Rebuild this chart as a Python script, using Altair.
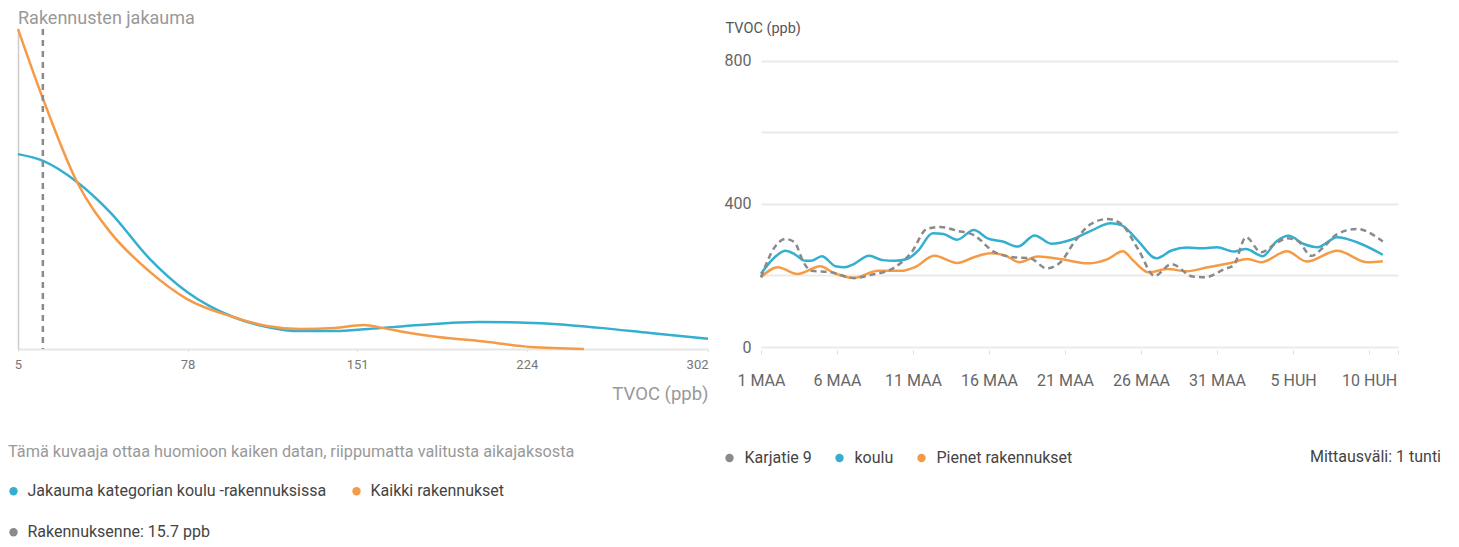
import json
import altair as alt
import pandas as pd

# ---------------- Left panel: distribution ----------------
tvoc_school = [5, 15.8, 30.4, 44.6, 61.8, 77.8, 97.6, 112.2, 126.4, 141.5, 155.7, 178, 203.4, 221, 235.3, 255.5, 277, 302]
dens_school = [0.609, 0.588, 0.522, 0.428, 0.281, 0.178, 0.10, 0.069, 0.056, 0.056, 0.0625, 0.075, 0.084, 0.083, 0.078, 0.066, 0.05, 0.032]
tvoc_all = [5, 15.8, 30.4, 44.6, 61.8, 77.8, 97.6, 112.2, 126.4, 141.5, 154, 161.7, 173.7, 185.8, 207.3, 225.4, 248.6]
dens_all = [1.0, 0.781, 0.522, 0.366, 0.241, 0.156, 0.10, 0.072, 0.0625, 0.066, 0.075, 0.066, 0.05, 0.0375, 0.022, 0.006, 0.0]
own_building = [15.7]
left_ticks = [5, 78, 151, 224, 302]
left_names = ["Jakauma kategorian koulu -rakennuksissa", "Kaikki rakennukset",
              f"Rakennuksenne: {own_building[0]} ppb"]

# ---------------- Right panel: time series ----------------
days_gray = [0, 0.9, 1.6, 2.2, 2.8, 3.3, 4.6, 6.1, 7.2, 8.8, 9.9, 10.9, 11.8, 12.9, 14.0, 15.3, 16.6, 17.7,
             18.8, 19.7, 20.6, 21.7, 22.8, 23.7, 24.8, 25.9, 27.0, 28.4, 29.2, 30.5, 31.1, 31.9, 32.9, 33.8,
             34.6, 35.3, 36.2, 37.0, 37.9, 39.2, 40.9]
vals_gray = [195, 279, 302, 293, 237, 213, 209, 193, 201, 223, 265, 330, 336, 325, 313, 267, 251, 248,
             220, 237, 293, 344, 358, 344, 274, 199, 232, 197, 195, 218, 229, 307, 265, 288,
             304, 297, 255, 279, 316, 330, 295]
days_blue = [0, 0.9, 1.6, 2.2, 2.9, 3.3, 4.0, 4.9, 5.5, 6.1, 7.1, 8.0, 8.8, 9.6, 10.3, 11.3, 12.0, 12.9,
             14.0, 14.9, 15.9, 16.9, 18.0, 19.1, 20.4, 21.7, 23.0, 23.7, 24.8, 26.0, 27.0, 28.0, 29.0,
             30.0, 31.1, 31.9, 33.0, 33.9, 34.7, 35.7, 36.6, 37.9, 39.2, 40.9]
vals_blue = [205, 251, 269, 260, 241, 241, 254, 226, 223, 232, 255, 243, 241, 246, 268, 318, 316, 300,
             327, 304, 295, 281, 312, 289, 300, 325, 346, 341, 297, 248, 270, 278, 276,
             279, 267, 274, 254, 295, 311, 288, 279, 307, 293, 258]
days_orange = [0, 1.1, 2.4, 3.9, 4.8, 6.1, 7.7, 9.2, 10.1, 11.4, 12.9, 14.0, 15.1, 16.0, 17.0, 18.2, 19.7,
               21.5, 22.8, 23.8, 24.5, 25.5, 26.7, 28.0, 29.4, 30.9, 32.0, 32.9, 34.6, 35.9, 37.9, 39.9, 40.9]
vals_orange = [195, 223, 204, 226, 207, 193, 213, 213, 223, 255, 235, 251, 262, 257, 237, 253, 246,
               234, 246, 268, 241, 209, 218, 212, 223, 235, 246, 237, 268, 239, 269, 237, 240]
right_names = ["Karjatie 9", "koulu", "Pienet rakennukset"]
day_ticks = [0, 5, 10, 15, 20, 25, 30, 35, 40, 41.9]
day_labels = ["1 MAA", "6 MAA", "11 MAA", "16 MAA", "21 MAA", "26 MAA", "31 MAA", "5 HUH", "10 HUH"]
y_ticks = [0, 200, 400, 600, 800]
interval_text = ["Mittausväli: 1 tunti"]

BLUE = "#34afd0"
ORANGE = "#f59b47"
GRAY = "#8a8a8a"
FONT = "Roboto"

# ---------------- build left ----------------
df_left = pd.concat([
    pd.DataFrame({"tvoc": tvoc_school, "dens": dens_school, "series": left_names[0]}),
    pd.DataFrame({"tvoc": tvoc_all, "dens": dens_all, "series": left_names[1]}),
])
df_rule = pd.DataFrame({"tvoc": own_building, "series": left_names[2]})
df_leg_left = pd.DataFrame({"tvoc": [5, 5, 5], "dens": [0, 0, 0], "series": left_names})

xl = alt.X("tvoc:Q", scale=alt.Scale(domain=[5, 302], nice=False, zero=False),
           axis=alt.Axis(values=left_ticks, title="TVOC (ppb)", grid=False,
                         labelFontSize=13, labelColor="#777", labelPadding=6,
                         labelAlign=alt.ExprRef(expr="datum.value == 302 ? 'right' : 'center'"),
                         tickSize=3, tickColor="#e0e0e0", domainColor="#e6e6e6", domainWidth=2,
                         titleFontSize=18.5, titleColor="#999", titleFontWeight="normal",
                         titleAnchor="end", titleAlign="right", titlePadding=13))
yl = alt.Y("dens:Q", scale=alt.Scale(domain=[0, 1], nice=False),
           axis=alt.Axis(labels=False, ticks=False, grid=False, title=None,
                         domainColor="#cccccc", domainWidth=1.5))

lines_left = alt.Chart(df_left).mark_line(strokeWidth=2.5, interpolate="monotone").encode(
    x=xl, y=yl,
    color=alt.Color("series:N", scale=alt.Scale(domain=left_names[:2], range=[BLUE, ORANGE]),
                    legend=None))
rule_left = alt.Chart(df_rule).mark_rule(strokeWidth=2.5, strokeDash=[6, 5], color=GRAY).encode(
    x="tvoc:Q")
leg_left = alt.Chart(df_leg_left).mark_circle(size=0, opacity=1).encode(
    x="tvoc:Q", y="dens:Q",
    fill=alt.Fill("series:N", scale=alt.Scale(domain=left_names, range=[BLUE, ORANGE, GRAY]),
                  legend=alt.Legend(
        title="Tämä kuvaaja ottaa huomioon kaiken datan, riippumatta valitusta aikajaksosta",
        orient="none", legendX=-10, legendY=415, direction="horizontal", columns=2,
        symbolType="circle", symbolSize=70, symbolStrokeWidth=0, symbolOpacity=1,
        symbolOffset=-2.5,
        labelFontSize=16, labelColor="#444", labelOffset=6, labelLimit=1000,
        titleFontSize=16.3, titleColor="#999", titleFontWeight="normal", titleLimit=1000,
        titlePadding=23, rowPadding=25, columnPadding=24, padding=0)))

left = alt.layer(lines_left, rule_left, leg_left).properties(
    width=690, height=320,
    title=alt.TitleParams("Rakennusten jakauma", anchor="start", frame="group", fontSize=18,
                          color="#999", fontWeight="normal", offset=-4, font=FONT))

# ---------------- build right ----------------
df_right = pd.concat([
    pd.DataFrame({"day": days_blue, "v": vals_blue, "series": right_names[1]}),
    pd.DataFrame({"day": days_orange, "v": vals_orange, "series": right_names[2]}),
    pd.DataFrame({"day": days_gray, "v": vals_gray, "series": right_names[0]}),
])
df_leg_right = pd.DataFrame({"day": [0, 0, 0], "v": [0, 0, 0], "series": right_names})

label_expr = ("datum.value % 5 == 0 && datum.value <= 40 ? " + json.dumps(day_labels)
              + "[datum.value / 5] : ''")
xr = alt.X("day:Q", scale=alt.Scale(domain=[0, 41.9], nice=False, zero=False),
           axis=alt.Axis(values=day_ticks, labelExpr=label_expr, title=None, grid=False,
                         domain=False, tickSize=4, tickColor="#dddddd", offset=3,
                         labelFlush=False, labelOverlap=False,
                         labelFontSize=16, labelColor="#666", labelPadding=18))
yr = alt.Y("v:Q", scale=alt.Scale(domain=[0, 889.5], nice=False),
           axis=alt.Axis(values=y_ticks, labelExpr="datum.value % 400 == 0 ? datum.label : ''",
                         grid=True, gridColor="#ebebeb", gridWidth=2, domain=False, ticks=False,
                         labelFontSize=16, labelColor="#666", labelPadding=10,
                         title="TVOC (ppb)", titleAngle=0, titleX=-36, titleY=-1,
                         titleAlign="left", titleBaseline="middle", titleFontSize=14.5,
                         titleColor="#555", titleFontWeight="normal"))

solid = alt.Chart(df_right).transform_filter(
    alt.FieldOneOfPredicate(field="series", oneOf=right_names[1:])
).mark_line(strokeWidth=2.5, interpolate="monotone").encode(
    x=xr, y=yr,
    color=alt.Color("series:N", scale=alt.Scale(domain=right_names[1:], range=[BLUE, ORANGE]),
                    legend=None))
dashed = alt.Chart(df_right).transform_filter(
    alt.FieldEqualPredicate(field="series", equal=right_names[0])
).mark_line(strokeWidth=2.5, interpolate="monotone", strokeDash=[6, 4], color=GRAY).encode(
    x=xr, y=yr)
leg_right = alt.Chart(df_leg_right).mark_circle(size=0, opacity=1).encode(
    x="day:Q", y="v:Q",
    fill=alt.Fill("series:N", scale=alt.Scale(domain=right_names, range=[GRAY, BLUE, ORANGE]),
                  legend=alt.Legend(
        title=None, orient="none", legendX=-37, legendY=421, direction="horizontal",
        symbolType="circle", symbolSize=70, symbolStrokeWidth=0, symbolOpacity=1,
        symbolOffset=-2.5,
        labelFontSize=16, labelColor="#444", labelOffset=7, labelLimit=1000,
        columnPadding=22, padding=0)))
interval = alt.Chart(pd.DataFrame({"t": interval_text})).mark_text(
    align="right", baseline="middle", fontSize=16, color="#444", font=FONT
).encode(x=alt.value(680), y=alt.value(428), text="t:N")

right = alt.layer(solid, dashed, leg_right, interval).properties(width=637, height=318)

chart = alt.hconcat(left, right, spacing=11).resolve_scale(
    color="independent", fill="independent", x="independent", y="independent"
).resolve_legend(color="independent", fill="independent").properties(
    padding={"left": 0, "top": 2, "right": 0, "bottom": 0}
).configure(font=FONT).configure_view(strokeWidth=0, stroke="transparent")

chart.save("out.html", embed_options={"renderer": "svg", "actions": False})
